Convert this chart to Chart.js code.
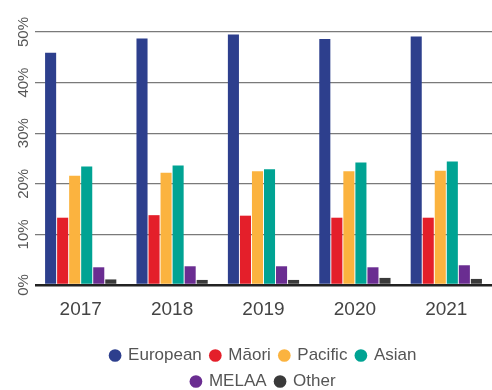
<!DOCTYPE html>
<html>
<head>
<meta charset="utf-8">
<script src="https://cdn.jsdelivr.net/npm/chart.js@4"></script>
<style>
  html, body { margin: 0; padding: 0; background: #fff; }
  #wrap { width: 492px; height: 390px; }
</style>
</head>
<body>
<div id="wrap"><canvas id="chart"></canvas></div>
<script>
const years = ['2017', '2018', '2019', '2020', '2021'];
const groups = ['European', 'Māori', 'Pacific', 'Asian', 'MELAA', 'Other'];

const european = [45.9, 48.7, 49.5, 48.6, 49.1];
const maori = [13.3, 13.8, 13.7, 13.3, 13.3];
const pacific = [21.6, 22.2, 22.5, 22.5, 22.6];
const asian = [23.4, 23.6, 22.9, 24.2, 24.4];
const melaa = [3.5, 3.7, 3.7, 3.5, 3.9];
const other = [1.1, 1.0, 1.0, 1.4, 1.2];

const yTicks = [0, 10, 20, 30, 40, 50];

const seriesValues = [european, maori, pacific, asian, melaa, other];
const colors = ['#2d3f8d', '#e41f2a', '#fbb33f', '#00a393', '#6a2d91', '#3a3a3a'];

const font = "'Liberation Sans', Roboto, sans-serif";

// the legend in the picture breaks after "Asian", so narrow the width it wraps at
// and drop the extra 10px chart.js adds under the rows
const legendWrap = {
    id: 'legendWrap',
    afterInit(chart) {
        const legend = chart.legend;
        const fitRows = legend._fitRows;
        legend._fitRows = function (...args) {
            const full = this.maxWidth;
            this.maxWidth = Math.min(full, 350);
            const h = fitRows.apply(this, args);
            this.maxWidth = full;
            return h - 10;
        };
    }
};

new Chart(document.querySelector('#chart').getContext('2d'), {
    type: 'bar',
    data: {
        labels: years,
        datasets: groups.map((g, i) => ({
            label: g,
            data: seriesValues[i],
            backgroundColor: colors[i],
            borderWidth: 0,
            categoryPercentage: 0.79,
            barPercentage: 0.92
        }))
    },
    options: {
        responsive: true,
        maintainAspectRatio: false,
        animation: false,
        layout: { padding: { top: 32, right: 0, left: 0, bottom: 0 } },
        plugins: {
            tooltip: { enabled: false },
            legend: {
                position: 'bottom',
                fullSize: false,
                labels: {
                    usePointStyle: true,
                    pointStyle: 'circle',
                    boxWidth: 9,
                    boxHeight: 9,
                    padding: 9,
                    color: '#555',
                    font: { family: font, size: 17 }
                }
            }
        },
        scales: {
            x: {
                grid: { display: false, drawTicks: false },
                border: { display: false },
                afterFit: axis => { axis.height = 53; },
                ticks: {
                    color: '#444',
                    padding: 13,
                    font: { family: font, size: 19 }
                }
            },
            y: {
                min: 0,
                max: 50,
                afterBuildTicks: axis => { axis.ticks = yTicks.map(v => ({ value: v })); },
                afterFit: axis => { axis.width = 35; },
                border: { display: false },
                grid: {
                    drawTicks: false,
                    color: c => c.tick && c.tick.value === 0 ? '#222' : '#7a7a7a',
                    lineWidth: c => c.tick && c.tick.value === 0 ? 2.5 : 1.3
                },
                ticks: {
                    minRotation: 90,
                    maxRotation: 90,
                    crossAlign: 'center',
                    padding: -4,
                    color: '#555',
                    font: { family: font, size: 15 },
                    callback: v => v + '%'
                }
            }
        }
    },
    plugins: [legendWrap]
});
</script>
</body>
</html>
